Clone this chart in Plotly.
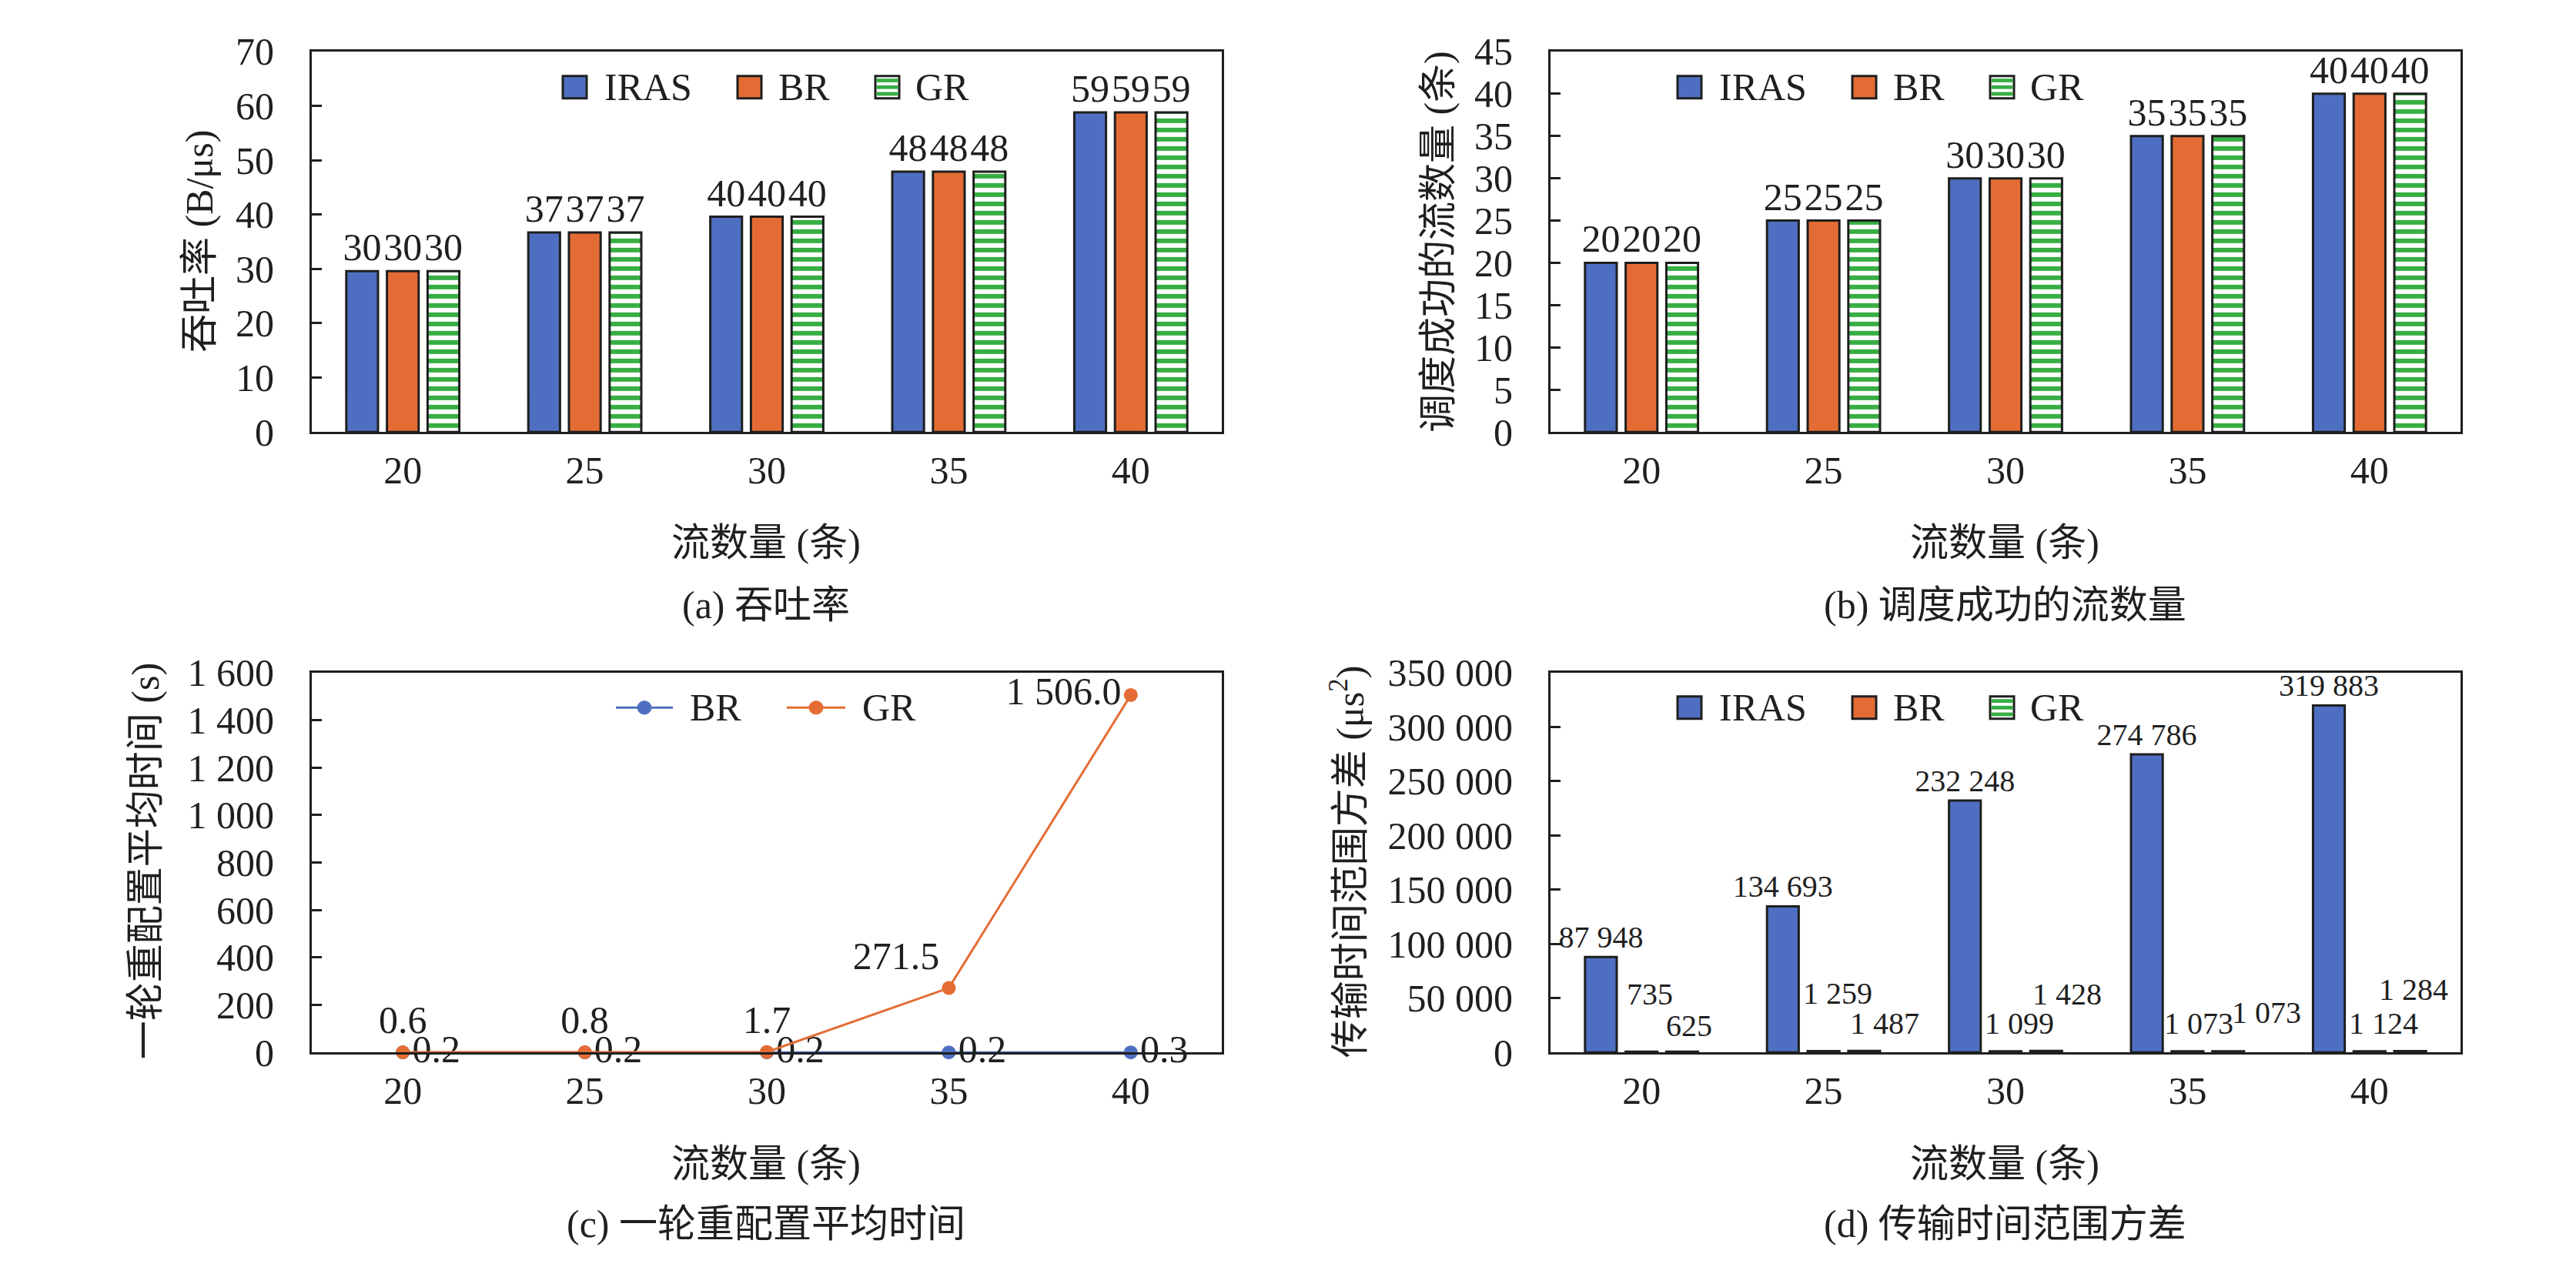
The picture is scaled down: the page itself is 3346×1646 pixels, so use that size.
import plotly.graph_objects as go
from plotly.subplots import make_subplots

W, H = 3346, 1646

flows = ["20", "25", "30", "35", "40"]
series = ["IRAS", "BR", "GR"]

# (a) 吞吐率 (B/μs)
thr_iras = [29.6, 36.7, 39.6, 47.9, 58.8]
thr_br = [29.6, 36.7, 39.6, 47.9, 58.8]
thr_gr = [29.6, 36.7, 39.6, 47.9, 58.8]

# (b) 调度成功的流数量 (条)
ok_iras = [20, 25, 30, 35, 40]
ok_br = [20, 25, 30, 35, 40]
ok_gr = [20, 25, 30, 35, 40]

# (c) 一轮重配置平均时间 (s)
rt_br = [0.2, 0.2, 0.2, 0.2, 0.3]
rt_gr = [0.6, 0.8, 1.7, 271.5, 1506.0]

# (d) 传输时间范围方差 (μs²)
var_iras = [87948, 134693, 232248, 274786, 319883]
var_br = [735, 1259, 1099, 1073, 1124]
var_gr = [625, 1487, 1428, 1073, 1284]

# hand placed label offsets (px) for the small bars in (d)
slot = 53
br_dx = [11, 18, 18, 15, 18]
br_dy = [75, 75, 36, 36, 36]
gr_dx = [9, 26, 27, 50, 4]
gr_dy = [34, 36, 74, 50, 80]

BLUE = "#4E6FC1"
ORANGE = "#E46C34"
GREEN = "#38AE44"
EDGE = "#1f1f1f"
FONT = 'Liberation Serif, "Noto Sans CJK SC", serif'


def px(x):
    return x / W


def py(y):
    return 1 - y / H


def sp(v):
    return f"{v:,}".replace(",", " ")


fig = make_subplots(rows=2, cols=2)

bar_colors = [BLUE, ORANGE, "white"]
stripes = dict(shape="-", fgcolor=GREEN, bgcolor="white", fgopacity=1, size=12, solidity=0.5)
for (r, c), vals in [((1, 1), [thr_iras, thr_br, thr_gr]), ((1, 2), [ok_iras, ok_br, ok_gr])]:
    for k, name in enumerate(series):
        fig.add_trace(go.Bar(x=flows, y=vals[k], name=name, text=[f"{v:.0f}" for v in vals[k]],
                             textposition="outside", constraintext="none", cliponaxis=False,
                             textfont=dict(size=50, color=EDGE),
                             marker=dict(color=bar_colors[k], line=dict(color=EDGE, width=3),
                                         pattern=stripes if name == "GR" else None)),
                      row=r, col=c)

for k, name in enumerate(series):
    vals = [var_iras, var_br, var_gr][k]
    fig.add_trace(go.Bar(x=flows, y=vals, name=name,
                         text=[sp(v) for v in vals] if name == "IRAS" else None,
                         textposition="outside", constraintext="none", cliponaxis=False,
                         textfont=dict(size=40, color=EDGE),
                         marker=dict(color=bar_colors[k], line=dict(color=EDGE, width=3),
                                     pattern=stripes if name == "GR" else None)),
                  row=2, col=2)

fig.add_trace(go.Scatter(x=flows, y=rt_br, name="BR", mode="lines+markers+text", cliponaxis=False,
                         line=dict(color=BLUE, width=3), marker=dict(color=BLUE, size=18),
                         text=[f"{v:.1f}" for v in rt_br], textposition="middle right",
                         textfont=dict(size=50, color=EDGE)), row=2, col=1)
fig.add_trace(go.Scatter(x=flows, y=rt_gr, name="GR", mode="lines+markers+text", cliponaxis=False,
                         line=dict(color=ORANGE, width=3), marker=dict(color=ORANGE, size=18),
                         text=[f"{v:,.1f}".replace(",", " ") for v in rt_gr],
                         textposition=["top center"] * 3 + ["top left", "middle left"],
                         textfont=dict(size=50, color=EDGE)), row=2, col=1)

fig.update_layout(width=W, height=H, autosize=False, margin=dict(l=0, r=0, t=0, b=0),
                  paper_bgcolor="white", plot_bgcolor="white", showlegend=False,
                  font=dict(family=FONT, size=50, color=EDGE), separators=". ",
                  barmode="group", bargap=0.33, bargroupgap=0.22)

fig.update_xaxes(type="category", range=[-0.5, 4.5], showline=True, linewidth=3, linecolor=EDGE,
                 mirror=True, ticks="", showgrid=False, tickfont=dict(size=50), ticklabelstandoff=4)
fig.update_yaxes(showline=True, linewidth=3, linecolor=EDGE, mirror=True, ticks="inside",
                 ticklen=13, tickwidth=3, tickcolor=EDGE, showgrid=False, zeroline=False,
                 tickfont=dict(size=50), ticklabelstandoff=36)

xl = [px(397), px(1579)]
xr = [px(2006), px(3188)]
yt = [py(544), py(32)]
yb = [py(1379), py(868)]
fig.update_xaxes(domain=xl, row=1, col=1)
fig.update_xaxes(domain=xr, row=1, col=2)
fig.update_xaxes(domain=xl, row=2, col=1)
fig.update_xaxes(domain=xr, row=2, col=2)
fig.update_yaxes(domain=yt, range=[0, 70], dtick=10, row=1, col=1)
fig.update_yaxes(domain=yt, range=[0, 45], dtick=5, row=1, col=2)
fig.update_yaxes(domain=yb, range=[0, 1600], dtick=200, separatethousands=True, row=2, col=1)
fig.update_yaxes(domain=yb, range=[0, 350000], dtick=50000, tickformat=",", exponentformat="none",
                 separatethousands=True, row=2, col=2)

ann = []
shapes = []


def text_at(x, y, s, size=50, angle=0, anchor="center"):
    ann.append(dict(xref="paper", yref="paper", x=px(x), y=py(y), text=s, showarrow=False,
                    xanchor=anchor, yanchor="middle", textangle=angle, font=dict(size=size)))


## axis titles and captions ##
text_at(987, 693, "流数量 (条)")
text_at(2596, 693, "流数量 (条)")
text_at(987, 1529, "流数量 (条)")
text_at(2596, 1529, "流数量 (条)")
text_at(987, 777, "(a) 吞吐率")
text_at(2596, 777, "(b) 调度成功的流数量")
text_at(987, 1610, "(c) 一轮重配置平均时间")
text_at(2596, 1610, "(d) 传输时间范围方差")
text_at(251, 288, "吞吐率 (B/μs)", angle=-90)
text_at(1860, 288, "调度成功的流数量 (条)", angle=-90)
text_at(181, 1122, "一轮重配置平均时间 (s)", angle=-90)
text_at(1742, 1122, "传输时间范围方差 (μs<sup>2</sup>)", angle=-90)

## hand placed labels of the small bars in (d), x is the category index ##
for i in range(len(flows)):
    ann.append(dict(xref="x4", yref="y4", x=i, y=var_br[i], text=sp(var_br[i]), showarrow=False,
                    xshift=br_dx[i], yshift=br_dy[i], font=dict(size=40)))
    ann.append(dict(xref="x4", yref="y4", x=i, y=var_gr[i], text=sp(var_gr[i]), showarrow=False,
                    xshift=slot + gr_dx[i], yshift=gr_dy[i], font=dict(size=40)))


## legends ##
def bar_legend(dx, yc):
    sym = [723, 950, 1129]
    lab = [775, 1001, 1179]
    for k, name in enumerate(series):
        x0 = sym[k] + dx
        shapes.append(dict(type="rect", xref="paper", yref="paper", x0=px(x0), x1=px(x0 + 31),
                           y0=py(yc + 15), y1=py(yc - 15), fillcolor=bar_colors[k],
                           line=dict(color=EDGE, width=3)))
        if name == "GR":
            for s in (-9, 0, 9):
                shapes.append(dict(type="rect", xref="paper", yref="paper", x0=px(x0 + 1.5),
                                   x1=px(x0 + 29.5), y0=py(yc + s + 2.5), y1=py(yc + s - 2.5),
                                   fillcolor=GREEN, line=dict(width=0)))
        text_at(lab[k] + dx, yc, name, anchor="left")


bar_legend(0, 80)
bar_legend(1448, 80)
bar_legend(1448, 915)

for (x0, x1, name, col, tx) in [(792, 866, "BR", BLUE, 886), (1014, 1090, "GR", ORANGE, 1110)]:
    shapes.append(dict(type="line", xref="paper", yref="paper", x0=px(x0), x1=px(x1),
                       y0=py(915), y1=py(915), line=dict(color=col, width=3)))
    xm = (x0 + x1) / 2
    shapes.append(dict(type="circle", xref="paper", yref="paper", x0=px(xm - 9), x1=px(xm + 9),
                       y0=py(924), y1=py(906), fillcolor=col, line=dict(color=col, width=1)))
    text_at(tx, 915, name, anchor="left")

fig.update_layout(annotations=ann, shapes=shapes)

fig.write_html("out.html")
